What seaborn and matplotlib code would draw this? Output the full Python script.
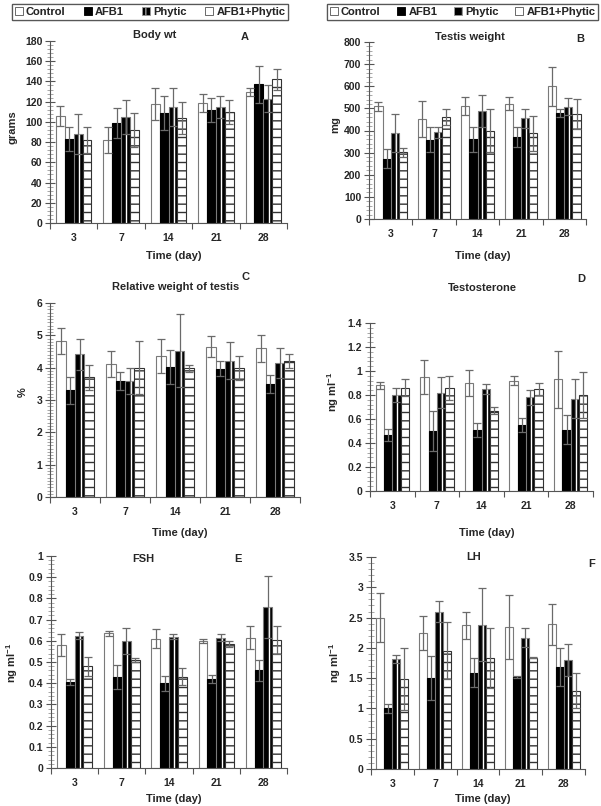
import numpy as np
import pandas as pd
import matplotlib
matplotlib.use("Agg")
import matplotlib.pyplot as plt
import seaborn as sns
from matplotlib.patches import Patch
from matplotlib.ticker import MultipleLocator, AutoMinorLocator, FixedLocator, FormatStrFormatter

days = ["3", "7", "14", "21", "28"]
groups = ["Control", "AFB1", "Phytic", "AFB1+Phytic"]

# means / error per group (rows: Control, AFB1, Phytic, AFB1+Phytic)
bw_mean = [[106, 82, 118, 119, 130],
           [83, 99, 109, 112, 137],
           [88, 105, 115, 115, 123],
           [82, 92, 104, 110, 142]]
bw_err = [[10, 13, 16, 9, 4],
          [12, 15, 17, 12, 18],
          [20, 17, 19, 11, 13],
          [13, 17, 16, 12, 10]]

tw_mean = [[510, 452, 510, 522, 600],
           [272, 358, 360, 370, 480],
           [388, 393, 487, 455, 508],
           [302, 460, 400, 388, 475]]
tw_err = [[20, 80, 42, 30, 88],
          [43, 57, 58, 45, 17],
          [85, 25, 73, 42, 37],
          [20, 35, 97, 79, 68]]

rel_mean = [[4.82, 4.1, 4.35, 4.65, 4.6],
            [3.3, 3.6, 4.03, 3.97, 3.5],
            [4.42, 3.58, 4.52, 4.22, 4.15],
            [3.7, 4.0, 3.98, 3.98, 4.2]]
rel_err = [[0.4, 0.4, 0.53, 0.33, 0.42],
           [0.42, 0.28, 0.52, 0.23, 0.27],
           [0.48, 0.4, 1.13, 0.58, 0.47],
           [0.38, 0.82, 0.1, 0.37, 0.22]]

tst_mean = [[0.88, 0.95, 0.90, 0.92, 0.93],
            [0.47, 0.50, 0.51, 0.55, 0.51],
            [0.80, 0.82, 0.85, 0.78, 0.77],
            [0.86, 0.86, 0.67, 0.85, 0.80]]
tst_err = [[0.03, 0.14, 0.11, 0.035, 0.24],
           [0.05, 0.17, 0.06, 0.06, 0.12],
           [0.06, 0.13, 0.04, 0.06, 0.16],
           [0.07, 0.10, 0.03, 0.05, 0.19]]

fsh_mean = [[0.58, 0.635, 0.61, 0.60, 0.615],
            [0.405, 0.43, 0.40, 0.42, 0.46],
            [0.625, 0.60, 0.62, 0.615, 0.76],
            [0.48, 0.51, 0.43, 0.585, 0.605]]
fsh_err = [[0.05, 0.01, 0.045, 0.01, 0.055],
           [0.015, 0.055, 0.035, 0.02, 0.05],
           [0.015, 0.06, 0.01, 0.015, 0.145],
           [0.045, 0.01, 0.04, 0.015, 0.065]]

lh_mean = [[2.5, 2.24, 2.37, 2.34, 2.39],
           [1.0, 1.5, 1.59, 1.52, 1.68],
           [1.82, 2.6, 2.38, 2.17, 1.8],
           [1.48, 1.95, 1.83, 1.84, 1.29]]
lh_err = [[0.4, 0.28, 0.23, 0.53, 0.34],
          [0.07, 0.36, 0.24, 0.01, 0.31],
          [0.07, 0.17, 0.6, 0.16, 0.27],
          [0.51, 0.47, 0.5, 0.01, 0.29]]

sns.set_style("ticks")
plt.rcParams["font.family"] = ["Liberation Sans", "DejaVu Sans"]
plt.rcParams["font.weight"] = "bold"
plt.rcParams["mathtext.fontset"] = "custom"
plt.rcParams["mathtext.rm"] = "Liberation Sans:bold"
plt.rcParams["mathtext.bf"] = "Liberation Sans:bold"
plt.rcParams["mathtext.it"] = "Liberation Sans:bold"
plt.rcParams["hatch.linewidth"] = 1.0

W, H = 601, 806
fig = plt.figure(figsize=(W / 100, H / 100), dpi=100)


def fx(x):
    return x / W


def fy(y):
    return 1 - y / H


ngml = r"ng ml$^{-1}$"
# title, letter, ylabel, means, errs, ymax, major step, minor div,
# axes box (left, right, top, bottom px), title xy, letter xy, ylabel xy, xlabel y
panels = [
    ("Body wt", "A", "grams", bw_mean, bw_err, 180, 20, 5,
     (50, 287, 41, 223), (155, 35), (245, 37), (13, 127), 256),
    ("Testis weight", "B", "mg", tw_mean, tw_err, 800, 100, 5,
     (369, 586, 42, 219), (470, 37), (580, 39), (335, 125), 256),
    ("Relative weight of testis", "C", "%", rel_mean, rel_err, 6, 1, 10,
     (50, 300, 303, 497), (176, 287), (245, 277), (23, 392), 533),
    ("Testosterone", "D", ngml, tst_mean, tst_err, 1.4, 0.2, 5,
     (370, 593, 323, 491), (482, 288), (581, 279), (333, 392), 533),
    ("FSH", "E", ngml, fsh_mean, fsh_err, 1.0, 0.1, 5,
     (51, 287, 556, 768), (143, 559), (238, 559), (12, 663), 799),
    ("LH", "F", ngml, lh_mean, lh_err, 3.5, 0.5, 5,
     (371, 585, 557, 769), (474, 557), (592, 564), (335, 663), 799),
]

face = {"Control": "white", "AFB1": "black", "Phytic": "black", "AFB1+Phytic": "white"}
edge = {"Control": "#7a7a7a", "AFB1": "black", "Phytic": "#7a7a7a", "AFB1+Phytic": "#333333"}

for (title, letter, ylab, means, errs, ymax, step, ndiv,
     box, tpos, lpos, ylpos, xly) in panels:
    l, r, t, b = box
    ax = fig.add_axes([fx(l), fy(b), fx(r - l), (b - t) / H])

    rows = []
    for g, vals in zip(groups, means):
        for d, v in zip(days, vals):
            rows.append({"day": d, "group": g, "value": v})
    df = pd.DataFrame(rows)

    sns.barplot(data=df, x="day", y="value", hue="group", order=days,
                hue_order=groups, palette=face, width=0.75, errorbar=None,
                legend=False, ax=ax, linewidth=0.8, saturation=1)

    for g, cont, m, e in zip(groups, ax.containers, means, errs):
        xs = []
        for p in cont:
            p.set_facecolor(face[g])
            p.set_edgecolor(edge[g])
            if g == "AFB1+Phytic":
                p.set_hatch("--")
            xs.append(p.get_x() + p.get_width() / 2)
        if g == "Phytic":
            for p in cont:
                ax.vlines(p.get_x() + p.get_width() * 0.6, 0, p.get_height(),
                          color="white", lw=1.0, zorder=p.get_zorder() + 0.1)
        ax.errorbar(xs, m, yerr=e, fmt="none", ecolor="#6a6a6a",
                    elinewidth=0.9, capsize=2.6, capthick=0.9, zorder=5)

    ax.set_xlim(-0.5, 4.5)
    ax.set_ylim(0, ymax)
    ax.yaxis.set_major_locator(MultipleLocator(step))
    ax.yaxis.set_minor_locator(AutoMinorLocator(ndiv))
    ax.yaxis.set_major_formatter(FormatStrFormatter("%g"))
    ax.xaxis.set_minor_locator(FixedLocator(np.arange(-0.5, 5, 1)))
    ax.tick_params(axis="y", which="major", direction="inout", length=7,
                   width=0.8, color="#555555", labelsize=7.5, pad=2)
    ax.tick_params(axis="y", which="minor", direction="inout", length=5,
                   width=0.6, color="#999999")
    ax.tick_params(axis="x", which="major", length=0, labelsize=7.5, pad=7)
    ax.tick_params(axis="x", which="minor", direction="out", length=4,
                   width=0.8, color="#555555")
    for lab in ax.get_xticklabels() + ax.get_yticklabels():
        lab.set_fontweight("bold")
    ax.set_xlabel("")
    ax.set_ylabel("")
    sns.despine(ax=ax)
    for s in ("left", "bottom"):
        ax.spines[s].set_color("#555555")
        ax.spines[s].set_linewidth(0.8)

    fig.text(fx(tpos[0]), fy(tpos[1]), title, ha="center", va="center",
             fontsize=8, fontweight="bold")
    fig.text(fx(lpos[0]), fy(lpos[1]), letter, ha="center", va="center",
             fontsize=8, fontweight="bold")
    fig.text(fx(ylpos[0]), fy(ylpos[1]), ylab, ha="center", va="center",
             rotation=90, fontsize=8, fontweight="bold")
    fig.text(fx((l + r) / 2 + 5), fy(xly), "Time (day)", ha="center",
             va="center", fontsize=8, fontweight="bold")

handles = [Patch(facecolor="white", edgecolor="#555555", lw=0.6),
           Patch(facecolor="black", edgecolor="black", lw=0.6),
           Patch(facecolor="black", edgecolor="#999999", hatch="||", lw=0.6),
           Patch(facecolor="white", edgecolor="#555555", lw=0.6)]

for x0, x1 in [(12, 288), (327, 598)]:
    leg = fig.legend(handles, groups, loc="center", ncol=4, mode="expand",
                     bbox_to_anchor=(fx(x0), fy(21), fx(x1 - x0), 18 / H),
                     frameon=True, fancybox=False, edgecolor="#444444",
                     handlelength=0.7, handleheight=0.7, handletextpad=0.3,
                     borderaxespad=0, borderpad=0.25, columnspacing=0.5,
                     prop={"size": 8, "weight": "bold"})
    leg.get_frame().set_linewidth(0.9)
    fig.add_artist(leg)

fig.savefig("out.png", dpi=100)
